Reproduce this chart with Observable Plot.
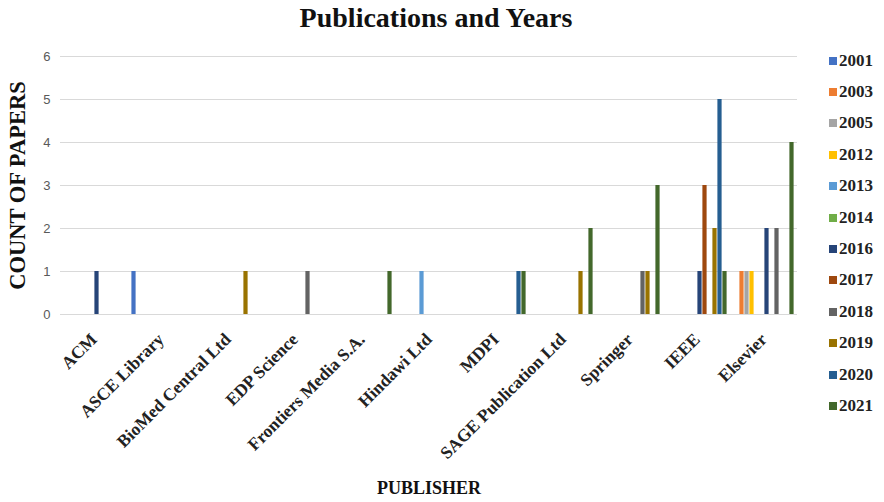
<!DOCTYPE html>
<html>
<head>
<meta charset="utf-8">
<script src="https://cdn.jsdelivr.net/npm/d3@7"></script>
<script src="https://cdn.jsdelivr.net/npm/@observablehq/plot@0.6"></script>
<style>
  html, body { margin: 0; padding: 0; background: #fff; }
  #wrap { position: relative; width: 884px; height: 502px; overflow: hidden; }
  #title { position: absolute; left: 0; top: 0; width: 872px; height: 36px; line-height: 36px;
    text-align: center; font-family: "Liberation Serif", "Times New Roman", serif; font-weight: bold; font-size: 28px; color: #111; }
  #chart { position: absolute; left: 0; top: 36px; }
  #legend { position: absolute; left: 829px; top: 45px; font-family: "Liberation Serif", "Times New Roman", serif;
    font-weight: bold; font-size: 17px; color: #222; }
  #legend .item { height: 31.4px; display: flex; align-items: center; white-space: nowrap; }
  #legend .sw { width: 8px; height: 8px; margin-right: 2px; display: inline-block; }
</style>
</head>
<body>
<div id="wrap">
  <div id="title">Publications and Years</div>
  <div id="chart"></div>
  <div id="legend"></div>
</div>
<script>
const publishers = ["ACM", "ASCE Library", "BioMed Central Ltd", "EDP Science", "Frontiers Media S.A.",
  "Hindawi Ltd", "MDPI", "SAGE Publication Ltd", "Springer", "IEEE", "Elsevier"];
const years = ["2001", "2003", "2005", "2012", "2013", "2014", "2016", "2017", "2018", "2019", "2020", "2021"];
const colors = ["#4472C4", "#ED7D31", "#A5A5A5", "#FFC000", "#5B9BD5", "#70AD47",
  "#264478", "#9E480E", "#636363", "#997300", "#255E91", "#43682B"];
// count of papers per publisher, one value per year (same order as years)
const counts = [
  [0,0,0,0,0,0,1,0,0,0,0,0], // ACM
  [1,0,0,0,0,0,0,0,0,0,0,0], // ASCE Library
  [0,0,0,0,0,0,0,0,0,1,0,0], // BioMed Central Ltd
  [0,0,0,0,0,0,0,0,1,0,0,0], // EDP Science
  [0,0,0,0,0,0,0,0,0,0,0,1], // Frontiers Media S.A.
  [0,0,0,0,1,0,0,0,0,0,0,0], // Hindawi Ltd
  [0,0,0,0,0,0,0,0,0,0,1,1], // MDPI
  [0,0,0,0,0,0,0,0,0,1,0,2], // SAGE Publication Ltd
  [0,0,0,0,0,0,0,0,1,1,0,3], // Springer
  [0,0,0,0,0,0,1,3,0,2,5,1], // IEEE
  [0,1,1,1,0,0,2,0,2,0,0,4]  // Elsevier
];
const yTicks = [0, 1, 2, 3, 4, 5, 6];

const data = publishers.flatMap((p, i) =>
  years.map((y, j) => ({publisher: p, year: y, count: counts[i][j]}))
).filter(d => d.count > 0);

const serif = "Liberation Serif, Times New Roman, serif";

const chart = Plot.plot({
  width: 884,
  height: 466,
  marginLeft: 59,
  marginRight: 86,
  marginTop: 20,
  marginBottom: 188,
  style: {background: "transparent"},
  fx: {domain: publishers, padding: 0, axis: null, label: null},
  x: {domain: years, paddingInner: 0, paddingOuter: 0.1, axis: null},
  y: {domain: [0, 6], axis: null},
  color: {domain: years, range: colors},
  marks: [
    Plot.gridY(yTicks, {stroke: "#d9d9d9", strokeOpacity: 1, strokeWidth: 1}),
    Plot.barY(data, {fx: "publisher", x: "year", y: "count", fill: "year", insetLeft: 0.4, insetRight: 0.4}),
    Plot.axisY(yTicks, {tickSize: 0, tickPadding: 10, label: null, fontFamily: "Liberation Sans, Arial, sans-serif", fontSize: 13, color: "#595959"}),
    Plot.axisY([], {tickSize: 0, label: "COUNT OF PAPERS", labelAnchor: "center", labelArrow: "none", labelOffset: 51, fontFamily: serif, fontWeight: "bold", fontSize: 22.5, color: "#111"}),
    Plot.axisFx({anchor: "bottom", tickRotate: -45, tickSize: 0, tickPadding: 22, label: null, fontFamily: serif, fontWeight: "bold", fontSize: 17.5, color: "#222"}),
    Plot.axisFx([], {anchor: "bottom", tickSize: 0, label: "PUBLISHER", labelAnchor: "center", labelArrow: "none", labelOffset: 179, fontFamily: serif, fontWeight: "bold", fontSize: 18, color: "#111"})
  ]
});
document.getElementById("chart").appendChild(chart);

const color = chart.scale("color");
const legend = d3.select("#legend");
const items = legend.selectAll("div.item").data(years).join("div").attr("class", "item");
items.append("span").attr("class", "sw").style("background", d => color.apply(d));
items.append("span").text(d => d);
</script>
</body>
</html>
